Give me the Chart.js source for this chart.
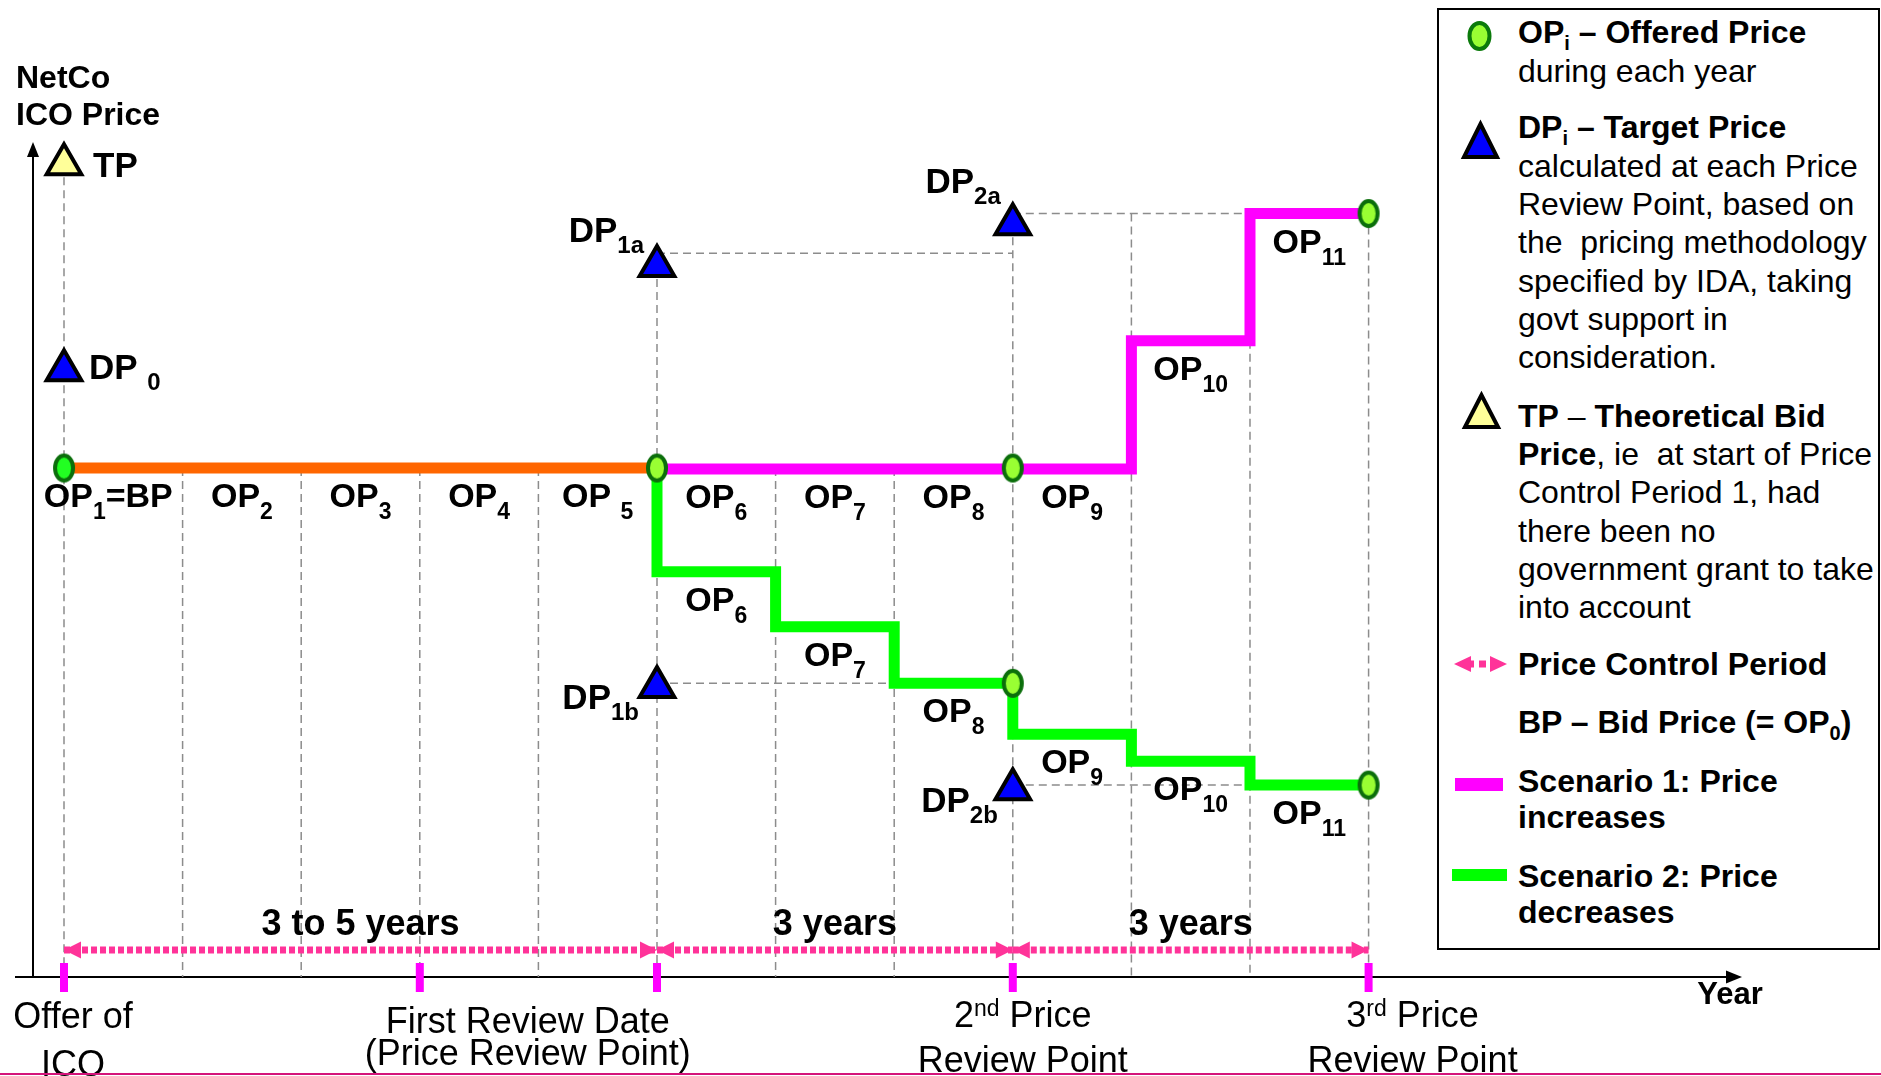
<!DOCTYPE html>
<html>
<head>
<meta charset="utf-8">
<title>NetCo ICO Price – price control periods</title>
<script src="https://cdn.jsdelivr.net/npm/chart.js@4.4.1/dist/chart.umd.min.js"></script>
<style>
  html, body { margin: 0; padding: 0; background: #fff; }
  body { width: 1881px; height: 1076px; position: relative; overflow: hidden; font-family: "Liberation Sans", Arial, sans-serif; }
  #wrap { position: absolute; left: 0; top: 0; width: 1881px; height: 1076px; }
  #legendBox { position: absolute; left: 1437px; top: 8px; width: 443px; height: 942px; box-sizing: border-box; border: 2px solid #000; background: #fff; }
  #icons { position: absolute; left: 0; top: 0; pointer-events: none; }
  .lg { position: absolute; left: 1518px; font-size: 32px; line-height: 38px; white-space: pre; color: #000; }
  .lg b { font-weight: bold; }
  .lg .sb { font-size: 20px; position: relative; top: 7px; line-height: 0; }
  #bottomRule { position: absolute; left: 0; top: 1073px; width: 1881px; height: 2px; background: #d4147a; }
</style>
</head>
<body>
<div id="wrap"><canvas id="chart"></canvas></div>
<div id="legendBox"></div>
<svg id="icons" width="1881" height="1076">
  <ellipse cx="1479.5" cy="36" rx="10" ry="13" fill="#99ff33" stroke="#0b7a0b" stroke-width="4"/>
  <polygon points="1480.5,124 1464,157 1497,157" fill="#0000ff" stroke="#000" stroke-width="4"/>
  <polygon points="1481.5,395 1465,427 1498,427" fill="#ffff99" stroke="#000" stroke-width="4"/>
  <polygon points="1454,664 1471,656 1471,672" fill="#ff3399"/>
  <rect x="1470" y="660.5" width="4" height="7" fill="#ff3399"/>
  <rect x="1479" y="660.5" width="7" height="7" fill="#ff3399"/>
  <polygon points="1507,664 1490,656 1490,672" fill="#ff3399"/>
  <rect x="1455" y="778" width="48" height="13" fill="#ff00ff"/>
  <rect x="1452" y="869" width="55" height="12" fill="#00ff00"/>
</svg>
<div id="legendText"></div>
<div id="bottomRule"></div>

<script>
// ---- data (x = year from offer of ICO, y = price index, BP = 100) ----
const yearMarks = [0, 1, 2, 3, 4, 5, 6, 7, 8, 9, 10, 11];
const gridTops = [159.7, 100, 100, 100, 100, 139.7, 100, 100, 147.9, 150, 125, 150];

// offered prices OP1..OP5 (= BP), then OP6..OP11 for each scenario
const opBase = [100, 100, 100, 100, 100];
const opScenario1 = [99.8, 99.8, 99.8, 99.8, 125, 150];
const opScenario2 = [79.6, 68.8, 57.7, 47.7, 42.4, 37.7];

// offered price points marked with a circle
const offeredYears = [0, 5, 8, 11, 8, 11];
const offeredValues = [100, 100, 100, 150, 57.7, 37.7];

// theoretical / target prices
const targetNames = ['TP', 'DP0', 'DP1a', 'DP2a', 'DP1b', 'DP2b'];
const targetYears = [0, 0, 5, 8, 5, 8];
const targetValues = [159.7, 119.2, 139.7, 147.9, 57.0, 36.9];

// dashed guides from each target price
const guideFrom = [5, 8, 5, 8];
const guideTo = [8, 11, 7, 10];
const guideValues = [142.2, 150, 57.7, 37.7];

// review points and price control periods
const reviewYears = [0, 3, 5, 8, 11];
const periodFrom = [0, 5, 8];
const periodTo = [5, 8, 11];
const periodLabels = ['3 to 5 years', '3 years', '3 years'];
const periodLevel = 5.3;
const reviewLabelYears = [0, 3, 8, 11];
const reviewLabels = [
  [['Offer of'], ['ICO']],
  [['First Review Date'], ['(Price Review Point)']],
  [['2', 'nd', ' Price'], ['Review Point']],
  [['3', 'rd', ' Price'], ['Review Point']]
];

const legendLines = [
  [43, '<b>OP<span class="sb">i</span> – Offered Price</b>'],
  [82, 'during each year'],
  [138, '<b>DP<span class="sb">i</span> – Target Price</b>'],
  [177, 'calculated at each Price'],
  [215, 'Review Point, based on'],
  [253, 'the  pricing methodology'],
  [292, 'specified by IDA, taking'],
  [330, 'govt support in'],
  [368, 'consideration.'],
  [427, '<b>TP</b> – <b>Theoretical Bid</b>'],
  [465, '<b>Price</b>, ie  at start of Price'],
  [503, 'Control Period 1, had'],
  [542, 'there been no'],
  [580, 'government grant to take'],
  [618, 'into account'],
  [675, '<b>Price Control Period</b>'],
  [733, '<b>BP – Bid Price (= OP<span class="sb">0</span>)</b>'],
  [792, '<b>Scenario 1: Price</b>'],
  [828, '<b>increases</b>'],
  [887, '<b>Scenario 2: Price</b>'],
  [923, '<b>decreases</b>']
];

// ---- legend text ----
const legendEl = document.getElementById('legendText');
legendLines.forEach(([base, html]) => {
  const d = document.createElement('div');
  d.className = 'lg';
  d.style.top = (base - 30) + 'px';
  d.innerHTML = html;
  legendEl.appendChild(d);
});

// ---- helpers ----
const FONT = '"Liberation Sans", Arial, sans-serif';
const bold = s => 'bold ' + s + 'px ' + FONT;
const reg = s => s + 'px ' + FONT;

// OP_k covers the year from k-1 to k
function stepPoints(firstIndex, values) {
  const pts = values.map((v, i) => ({ x: firstIndex - 1 + i, y: v }));
  pts.push({ x: firstIndex - 1 + values.length, y: values[values.length - 1] });
  return pts;
}

function ellipseMarker(fill) {
  const c = document.createElement('canvas');
  c.width = 26; c.height = 33;
  const g = c.getContext('2d');
  g.beginPath();
  g.ellipse(13, 16.5, 9, 12.5, 0, 0, Math.PI * 2);
  g.fillStyle = fill;
  g.fill();
  g.lineWidth = 4;
  g.strokeStyle = '#0b6e0b';
  g.stroke();
  return c;
}
const brightMarker = ellipseMarker('#22ff22');
const lightMarker = ellipseMarker('#99ff33');

function richText(ctx, parts, x, y, align) {
  let w = 0;
  parts.forEach(p => { ctx.font = p.f; w += ctx.measureText(p.t).width; });
  let cx = align === 'center' ? x - w / 2 : align === 'right' ? x - w : x;
  parts.forEach(p => {
    ctx.font = p.f;
    ctx.fillText(p.t, cx, y + (p.dy || 0));
    cx += ctx.measureText(p.t).width;
  });
}

function arrowHead(ctx, tipX, tipY, dirX, dirY, len, half) {
  const bx = tipX - dirX * len, by = tipY - dirY * len;
  ctx.beginPath();
  ctx.moveTo(tipX, tipY);
  ctx.lineTo(bx - dirY * half, by + dirX * half);
  ctx.lineTo(bx + dirY * half, by - dirX * half);
  ctx.closePath();
  ctx.fill();
}

// ---- datasets ----
const datasets = [];

datasets.push({
  label: 'Target prices',
  data: targetYears.map((x, i) => ({ x, y: targetValues[i] })),
  showLine: false,
  pointStyle: 'triangle',
  pointRadius: 20,
  pointBorderWidth: 4,
  pointBorderColor: '#000',
  pointBackgroundColor: targetNames.map(n => n === 'TP' ? '#ffff99' : '#0000ff'),
  order: 0,
  clip: false
});

datasets.push({
  label: 'Offered prices',
  data: offeredYears.map((x, i) => ({ x, y: offeredValues[i] })),
  showLine: false,
  pointStyle: offeredYears.map((x, i) => i === 0 ? brightMarker : lightMarker),
  pointRadius: 12,
  order: 0,
  clip: false
});

const lineStyle = { showLine: true, stepped: 'before', borderWidth: 11, pointRadius: 0, clip: false, borderJoinStyle: 'miter' };

datasets.push(Object.assign({
  label: 'OP1 - OP5',
  data: stepPoints(1, opBase),
  borderColor: '#ff6600',
  order: 1
}, lineStyle));

datasets.push(Object.assign({
  label: 'Scenario 1: Price increases',
  data: stepPoints(6, opScenario1),
  borderColor: '#ff00ff',
  order: 1
}, lineStyle));

datasets.push(Object.assign({
  label: 'Scenario 2: Price decreases',
  data: [{ x: 5, y: opBase[opBase.length - 1] }].concat(stepPoints(6, opScenario2)),
  borderColor: '#00ff00',
  order: 2
}, lineStyle));

periodFrom.forEach((a, i) => {
  datasets.push({
    label: 'Price Control Period ' + (i + 1),
    data: [{ x: a, y: periodLevel }, { x: periodTo[i], y: periodLevel }],
    showLine: true,
    borderColor: '#ff3399',
    borderWidth: 7,
    borderDash: [6, 3],
    pointRadius: 0,
    arrowEnds: true,
    order: 3,
    clip: false
  });
});

reviewYears.forEach(r => {
  datasets.push({
    label: 'review ' + r,
    data: [{ x: r, y: 2.75 }, { x: r, y: -2.95 }],
    showLine: true,
    borderColor: '#ff00ff',
    borderWidth: 8,
    pointRadius: 0,
    order: 3,
    clip: false
  });
});

yearMarks.forEach((yr, i) => {
  datasets.push({
    label: 'year ' + yr,
    data: [{ x: yr, y: gridTops[i] }, { x: yr, y: 0 }],
    showLine: true,
    borderColor: '#8c8c8c',
    borderWidth: 1.5,
    borderDash: [8, 5],
    pointRadius: 0,
    order: 5,
    clip: false
  });
});

guideFrom.forEach((a, i) => {
  datasets.push({
    label: 'guide ' + targetNames[i + 2],
    data: [{ x: a, y: guideValues[i] }, { x: guideTo[i], y: guideValues[i] }],
    showLine: true,
    borderColor: '#8c8c8c',
    borderWidth: 1.5,
    borderDash: [8, 5],
    pointRadius: 0,
    order: 5,
    clip: false
  });
});

// ---- labels, arrows ----
const targetLabelPlace = {
  TP:   { align: 'left',  dx: 29,  dy: 13 },
  DP0:  { align: 'left',  dx: 25,  dy: 9, gap: ' ' },
  DP1a: { align: 'right', dx: -13, dy: -24 },
  DP2a: { align: 'right', dx: -12, dy: -31 },
  DP1b: { align: 'right', dx: -18, dy: 22 },
  DP2b: { align: 'right', dx: -15, dy: 23 }
};
const reviewLabelPlace = [
  { dx: 9, lines: [51, 99] },
  { dx: 108, lines: [56, 88] },
  { dx: 10, lines: [50, 95] },
  { dx: 44, lines: [50, 95] }
];

const diagramPlugin = {
  id: 'diagram',
  afterDraw(chart) {
    const { ctx, chartArea: area, scales: { x, y } } = chart;
    ctx.save();
    ctx.fillStyle = '#000';
    ctx.strokeStyle = '#000';
    ctx.textAlign = 'left';
    ctx.textBaseline = 'alphabetic';

    // axis extension and arrow heads
    const ax = area.left, ay = area.bottom;
    ctx.lineWidth = 2;
    ctx.beginPath();
    ctx.moveTo(15, ay);
    ctx.lineTo(ax, ay);
    ctx.stroke();
    arrowHead(ctx, ax, area.top - 14, 0, -1, 15, 6);
    arrowHead(ctx, area.right + 15, ay, 1, 0, 16, 6.5);

    // axis titles
    richText(ctx, [{ t: 'NetCo', f: bold(32) }], ax - 17, 88, 'left');
    richText(ctx, [{ t: 'ICO Price', f: bold(32) }], ax - 17, 125, 'left');
    richText(ctx, [{ t: 'Year', f: bold(31) }], area.right + 3, ay + 27, 'center');

    // price control period arrow heads
    ctx.fillStyle = '#ff3399';
    chart.data.datasets.forEach((ds, i) => {
      if (!ds.arrowEnds) return;
      const pts = chart.getDatasetMeta(i).data;
      const p0 = pts[0], p1 = pts[pts.length - 1];
      arrowHead(ctx, p0.x, p0.y, -1, 0, 17, 8.5);
      arrowHead(ctx, p1.x, p1.y, 1, 0, 17, 8.5);
    });
    ctx.fillStyle = '#000';

    // offered price labels
    [[1, opBase], [6, opScenario1], [6, opScenario2]].forEach(([first, values]) => {
      values.forEach((v, i) => {
        const k = first + i;
        const parts = [{ t: k === 5 ? 'OP ' : 'OP', f: bold(34) }, { t: String(k), f: bold(23), dy: 12 }];
        let dx = 0;
        if (k === 1) { parts.push({ t: '=BP', f: bold(34) }); dx = -15; }
        richText(ctx, parts, x.getPixelForValue(k - 0.5) + dx, y.getPixelForValue(v) + 39, 'center');
      });
    });

    // target price labels
    targetNames.forEach((name, i) => {
      const pl = targetLabelPlace[name];
      const px = x.getPixelForValue(targetYears[i]) + pl.dx;
      const py = y.getPixelForValue(targetValues[i]) + pl.dy;
      const parts = name === 'TP'
        ? [{ t: 'TP', f: bold(35) }]
        : [{ t: 'DP' + (pl.gap || ''), f: bold(35) }, { t: name.slice(2), f: bold(24), dy: 11 }];
      richText(ctx, parts, px, py, pl.align);
    });

    // period labels
    periodLabels.forEach((t, i) => {
      richText(ctx, [{ t, f: bold(36) }],
        x.getPixelForValue((periodFrom[i] + periodTo[i]) / 2),
        y.getPixelForValue(periodLevel) - 15, 'center');
    });

    // review point labels under the axis
    reviewLabels.forEach((lines, i) => {
      const pl = reviewLabelPlace[i];
      const cx = x.getPixelForValue(reviewLabelYears[i]) + pl.dx;
      lines.forEach((ln, j) => {
        const parts = ln.length === 3
          ? [{ t: ln[0], f: reg(36) }, { t: ln[1], f: reg(23), dy: -11 }, { t: ln[2], f: reg(36) }]
          : [{ t: ln[0], f: reg(36) }];
        richText(ctx, parts, cx, ay + pl.lines[j], 'center');
      });
    });

    ctx.restore();
  }
};

new Chart(document.getElementById('chart'), {
  type: 'scatter',
  data: { datasets },
  options: {
    responsive: true,
    maintainAspectRatio: false,
    animation: false,
    events: [],
    layout: { padding: { left: 33, right: 154, top: 156, bottom: 99 } },
    plugins: { legend: { display: false }, tooltip: { enabled: false } },
    scales: {
      x: {
        type: 'linear',
        min: -0.2614,
        max: 14.022,
        grid: { display: false, drawTicks: false },
        border: { display: true, color: '#000', width: 2 },
        ticks: { display: false }
      },
      y: {
        type: 'linear',
        min: 0,
        max: 161.3,
        grid: { display: false, drawTicks: false },
        border: { display: true, color: '#000', width: 2 },
        ticks: { display: false }
      }
    }
  },
  plugins: [diagramPlugin]
});
</script>
</body>
</html>
